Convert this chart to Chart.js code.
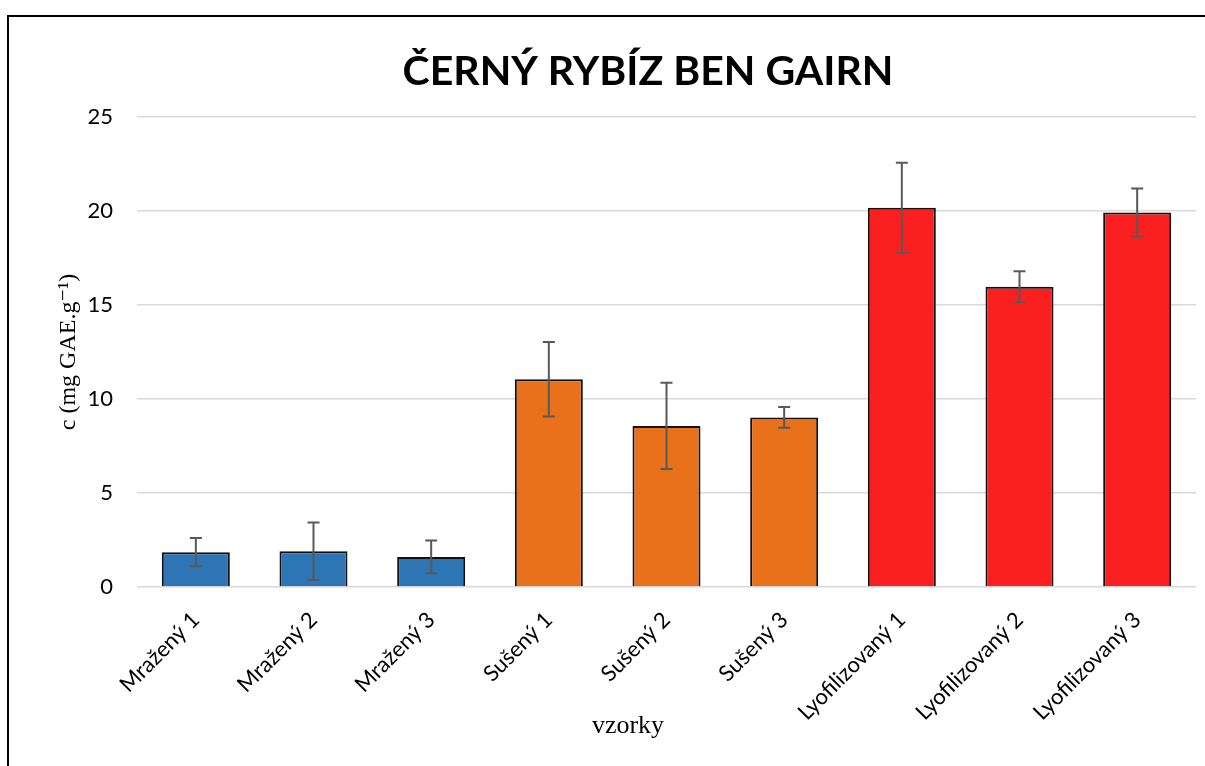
<!DOCTYPE html>
<html>
<head>
<meta charset="utf-8">
<script src="https://cdn.jsdelivr.net/npm/chart.js@4.4.1/dist/chart.umd.min.js"></script>
<style>
  body { margin: 0; background: #fff; }
  #wrap { position: relative; width: 1205px; height: 766px; overflow: hidden; }
  #frame { position: absolute; left: 7px; top: 15px; width: 2000px; height: 2000px;
           border-left: 2px solid #000; border-top: 2px solid #000; }
  #chart { position: absolute; left: 0; top: 0; }
</style>
</head>
<body>
<div id="wrap">
  <div id="frame"></div>
  <canvas id="chart" width="1205" height="766"></canvas>
</div>
<script>
// Data
const labels = ['Mražený 1', 'Mražený 2', 'Mražený 3', 'Sušený 1', 'Sušený 2', 'Sušený 3', 'Lyofilizovaný 1', 'Lyofilizovaný 2', 'Lyofilizovaný 3'];
const values = [1.85, 1.9, 1.6, 11.05, 8.57, 9.02, 20.17, 15.97, 19.92];
const errors = [0.75, 1.53, 0.87, 1.98, 2.3, 0.55, 2.4, 0.83, 1.28];
const yTicks = [0, 5, 10, 15, 20, 25];

const BLUE = '#2E75B6';
const ORANGE = '#E9711B';
const RED = '#FA2020';
const barColors = [BLUE, BLUE, BLUE, ORANGE, ORANGE, ORANGE, RED, RED, RED];

const SANS = 'Lato, "Open Sans", sans-serif';
const SERIF = '"Liberation Serif", "DejaVu Serif", serif';

// error bars drawn on top of the bars, through the chart scales
const errorBars = {
  id: 'errorBars',
  afterDatasetsDraw(chart) {
    const { ctx, scales: { x, y } } = chart;
    ctx.save();
    ctx.strokeStyle = '#595959';
    ctx.lineWidth = 2;
    values.forEach((v, i) => {
      const px = x.getPixelForValue(i);
      const top = y.getPixelForValue(v + errors[i]);
      const bot = y.getPixelForValue(v - errors[i]);
      ctx.beginPath();
      ctx.moveTo(px, top); ctx.lineTo(px, bot);
      ctx.moveTo(px - 6, top); ctx.lineTo(px + 6, top);
      ctx.moveTo(px - 6, bot); ctx.lineTo(px + 6, bot);
      ctx.stroke();
    });
    ctx.restore();
  }
};

// chart title and x axis title (they are centred on the original Excel frame, not the plot)
const chartTexts = {
  id: 'chartTexts',
  afterDraw(chart) {
    const { ctx } = chart;
    ctx.save();
    ctx.fillStyle = '#000';
    ctx.textAlign = 'center';
    ctx.textBaseline = 'middle';
    ctx.font = 'bold 41px ' + SANS;
    ctx.fillText('ČERNÝ RYBÍZ BEN GAIRN', 648, 72);
    ctx.font = '26px ' + SERIF;
    ctx.fillText('vzorky', 628, 726);
    ctx.restore();
  }
};

new Chart(document.getElementById('chart'), {
  type: 'bar',
  data: {
    labels: labels,
    datasets: [{
      data: values,
      backgroundColor: barColors,
      borderColor: '#111',
      borderWidth: 2,
      categoryPercentage: 1,
      barPercentage: 0.578
    }]
  },
  options: {
    responsive: false,
    animation: false,
    events: [],
    layout: {
      padding: { top: 117, right: 9, bottom: 0, left: 0 }
    },
    plugins: {
      legend: { display: false },
      tooltip: { enabled: false }
    },
    scales: {
      x: {
        grid: { display: false },
        border: { display: false },
        ticks: {
          color: '#000',
          font: { family: SANS, size: 22 },
          maxRotation: 45,
          minRotation: 45,
          autoSkip: false,
          padding: 12
        },
        afterFit(scale) { scale.height = 179; }
      },
      y: {
        min: 0,
        max: 25,
        afterBuildTicks(scale) { scale.ticks = yTicks.map(v => ({ value: v })); },
        grid: { color: '#d9d9d9', lineWidth: 1.5, drawTicks: false },
        border: { display: false },
        ticks: {
          color: '#000',
          font: { family: SANS, size: 22 },
          padding: 24
        },
        title: {
          display: true,
          text: 'c (mg GAE.g⁻¹)',
          color: '#000',
          font: { family: SERIF, size: 24 },
          padding: { top: 54, bottom: 0 }
        },
        afterFit(scale) { scale.width = 137; }
      }
    }
  },
  plugins: [errorBars, chartTexts]
});
</script>
</body>
</html>
